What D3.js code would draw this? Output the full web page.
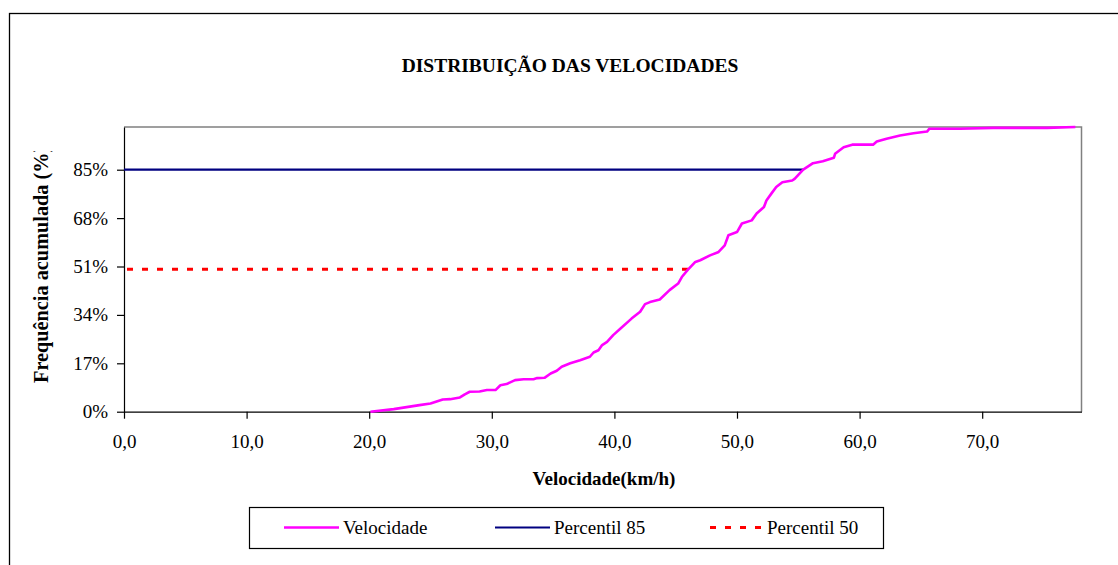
<!DOCTYPE html>
<html>
<head>
<meta charset="utf-8">
<script src="https://cdn.jsdelivr.net/npm/d3@7"></script>
<style>
  html, body { margin: 0; padding: 0; background: #fff; }
  svg { display: block; }
  text { font-family: "Liberation Serif", "Times New Roman", serif; fill: #000; }
</style>
</head>
<body>
<svg id="chart" width="1118" height="565"></svg>
<script>
// ---- data ----
const speedKmh = [20.1, 22.0, 24.1, 25.0, 26.0, 26.6, 27.4, 27.8, 28.2, 29.0, 29.6, 30.3, 30.7, 31.2, 31.9, 32.6, 33.4, 33.7, 34.3, 34.8, 35.3, 35.7, 36.4, 37.2, 38.0, 38.3, 38.7, 39.0, 39.4, 39.9, 40.5, 41.4, 42.1, 42.5, 42.9, 43.7, 44.5, 45.2, 45.5, 46.0, 46.6, 47.0, 47.8, 48.5, 49.0, 49.3, 50.0, 50.4, 51.2, 51.6, 52.2, 52.4, 52.8, 53.2, 53.7, 54.5, 54.7, 55.4, 56.2, 57.0, 57.9, 58.0, 58.7, 59.4, 61.1, 61.4, 62.2, 63.3, 64.4, 65.5, 65.7, 68.2, 70.9, 75.3, 77.6];
const cumFreqPct = [0.0, 0.9, 2.3, 2.9, 4.3, 4.4, 5.0, 6.1, 7.0, 7.1, 7.6, 7.6, 9.3, 9.7, 11.1, 11.4, 11.4, 11.8, 11.9, 13.4, 14.4, 15.8, 17.0, 18.1, 19.3, 20.8, 21.6, 23.4, 24.5, 26.9, 29.2, 32.7, 35.1, 37.8, 38.5, 39.4, 42.7, 45.0, 47.3, 49.9, 52.6, 53.2, 54.9, 56.1, 58.4, 62.0, 63.1, 66.1, 67.2, 69.6, 71.9, 74.2, 76.6, 78.9, 80.6, 81.2, 81.8, 85.0, 87.3, 88.0, 89.2, 90.6, 92.9, 93.8, 93.8, 94.9, 95.9, 97.0, 97.8, 98.4, 99.4, 99.4, 99.7, 99.7, 100.0];
const p85Speed = [0, 55.4];
const p85Value = [85, 85];
const p50Speed = [0, 46.3];
const p50Value = [50, 50];
const xTicks = [0, 10, 20, 30, 40, 50, 60, 70];
const xTickLabels = ["0,0", "10,0", "20,0", "30,0", "40,0", "50,0", "60,0", "70,0"];
const yTicks = [0, 17, 34, 51, 68, 85];
const yTickLabels = ["0%", "17%", "34%", "51%", "68%", "85%"];
const seriesNames = ["Velocidade", "Percentil 85", "Percentil 50"];
const titleText = "DISTRIBUIÇÃO DAS VELOCIDADES";
const xTitle = "Velocidade(km/h)";
const yTitle = "Frequência acumulada (%)";

// ---- layout ----
const svg = d3.select("#chart");
const plot = { left: 124, right: 1081.5, top: 127, bottom: 411.7 };
const x = d3.scaleLinear().domain([0, 78.1]).range([plot.left, plot.right]);
const y = d3.scaleLinear().domain([0, 100]).range([plot.bottom, plot.top]);

// outer chart border
svg.append("rect").attr("x", 9.5).attr("y", 13.5).attr("width", 1300).attr("height", 700)
  .attr("fill", "#fff").attr("stroke", "#000").attr("stroke-width", 1.3);

// plot area border (top/right gray)
svg.append("path")
  .attr("d", `M${plot.left},${plot.top}H${plot.right}V${plot.bottom}`)
  .attr("fill", "none").attr("stroke", "#808080").attr("stroke-width", 1.5);

// title
svg.append("text").attr("x", 570).attr("y", 71.5).attr("text-anchor", "middle")
  .attr("font-weight", "bold").attr("font-size", 19.5).text(titleText);

// axes
const xAxis = d3.axisBottom(x).tickValues(xTicks).tickSize(7).tickSizeOuter(0)
  .tickFormat((d, i) => xTickLabels[i]);
const gx = svg.append("g").attr("transform", `translate(0,${plot.bottom})`).call(xAxis);
gx.selectAll("text").attr("y", 36).attr("dy", 0).attr("font-size", 19)
  .attr("font-family", "Liberation Serif").attr("fill", "#000");
gx.selectAll("line, path").attr("stroke", "#000").attr("stroke-width", 1.2);

const yAxis = d3.axisLeft(y).tickValues(yTicks).tickSize(7).tickSizeOuter(0)
  .tickFormat((d, i) => yTickLabels[i]);
const gy = svg.append("g").attr("transform", `translate(${plot.left},0)`).call(yAxis);
gy.selectAll("text").attr("x", -16).attr("font-size", 19)
  .attr("font-family", "Liberation Serif").attr("fill", "#000");
gy.selectAll("line, path").attr("stroke", "#000").attr("stroke-width", 1.2);

// axis titles
svg.append("text").attr("x", 604).attr("y", 484.5).attr("text-anchor", "middle")
  .attr("font-weight", "bold").attr("font-size", 19).text(xTitle);

svg.append("clipPath").attr("id", "ytclip").append("rect")
  .attr("x", 0).attr("y", 151).attr("width", 100).attr("height", 300);
svg.append("g").attr("clip-path", "url(#ytclip)")
  .append("text").attr("transform", "translate(48,383) rotate(-90)")
  .attr("text-anchor", "start").attr("font-weight", "bold").attr("font-size", 20.3)
  .text(yTitle);

// lines
const line = d3.line().x(d => x(d[0])).y(d => y(d[1]));
const p85 = p85Speed.map((v, i) => [v, p85Value[i]]);
const p50 = p50Speed.map((v, i) => [v, p50Value[i]]);
const vel = speedKmh.map((v, i) => [v, cumFreqPct[i]]);

svg.append("path").datum(p85).attr("d", line).attr("fill", "none")
  .attr("stroke", "#000080").attr("stroke-width", 2.2);
svg.append("path").datum(p50).attr("d", line).attr("fill", "none")
  .attr("stroke", "#ff0000").attr("stroke-width", 3).attr("stroke-dasharray", "6,9")
  .attr("stroke-dashoffset", -3);
svg.append("path").datum(vel).attr("d", line).attr("fill", "none")
  .attr("stroke", "#ff00ff").attr("stroke-width", 2.6).attr("stroke-linejoin", "round");

// legend
const lg = svg.append("g");
lg.append("rect").attr("x", 249.5).attr("y", 507.5).attr("width", 634).attr("height", 41)
  .attr("fill", "#fff").attr("stroke", "#000").attr("stroke-width", 1.2);
const items = [
  { x1: 284, x2: 339, tx: 343, color: "#ff00ff", w: 2.6, dash: null },
  { x1: 495, x2: 550, tx: 554, color: "#000080", w: 2.2, dash: null },
  { x1: 710, x2: 761, tx: 767, color: "#ff0000", w: 3, dash: "6,9" }
];
items.forEach((it, i) => {
  const l = lg.append("line").attr("x1", it.x1).attr("x2", it.x2).attr("y1", 527.5).attr("y2", 527.5)
    .attr("stroke", it.color).attr("stroke-width", it.w);
  if (it.dash) l.attr("stroke-dasharray", it.dash);
  lg.append("text").attr("x", it.tx).attr("y", 534).attr("font-size", 19).text(seriesNames[i]);
});
</script>
</body>
</html>
